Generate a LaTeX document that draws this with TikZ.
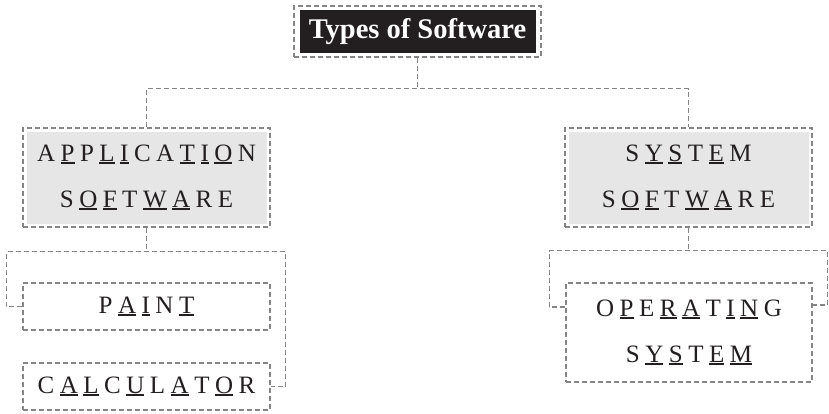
\documentclass[tikz,border=0pt]{standalone}
\usepackage{fontspec}
\setmainfont{Liberation Serif}
\usepackage{xcolor}
\usetikzlibrary{positioning, calc}

\definecolor{linegray}{HTML}{858585}
\definecolor{boxgray}{HTML}{E6E6E6}
\definecolor{inkdark}{HTML}{231F20}

% one underlined letter, and the gap between letters
\newcommand{\ulet}[1]{\setbox0=\hbox{#1}\rlap{\rule[-3pt]{\wd0}{1.8pt}}\box0}
\newcommand{\lsp}{\hspace{5.5pt}}

\begin{document}
\begin{tikzpicture}[
  x=1pt, y=-1pt,
  every node/.style={inner sep=0pt, text=inkdark},
  frame/.style={draw=linegray, line width=1.3pt, dash pattern=on 5pt off 3pt, rectangle, minimum width=247pt},
  shade/.style={fill=boxgray, rectangle, minimum width=240pt, minimum height=92pt, align=center,
    font=\fontsize{25}{46}\selectfont},
  plain/.style={frame, minimum height=47pt, align=center, font=\fontsize{25}{46}\selectfont},
  title/.style={fill=inkdark, text=white, minimum width=236pt, minimum height=43pt,
    font=\bfseries\fontsize{28.5}{30}\selectfont},
  link/.style={draw=linegray, line width=1.3pt, dash pattern=on 5pt off 3pt}
]
\useasboundingbox (0,0) rectangle (829,413);

% Nodes
\node[frame, minimum height=51pt] (root) at (417.5,31.5) {};
\node[title] (rootlabel) at (root) {Types of Software};

\node[frame, minimum height=99pt] (app) at (146.5,177.5) {};
\node[shade] (applabel) at (app) {%
  A\lsp\ulet{P}\lsp P\lsp\ulet{L}\lsp\ulet{I}\lsp C\lsp A\lsp\ulet{T}\lsp\ulet{I}\lsp\ulet{O}\lsp N\\
  S\lsp\ulet{O}\lsp\ulet{F}\lsp T\lsp\ulet{W}\lsp\ulet{A}\lsp R\lsp E};

\node[frame, minimum height=99pt] (sys) at (688.5,177.5) {};
\node[shade] (syslabel) at (sys) {%
  S\lsp\ulet{Y}\lsp\ulet{S}\lsp T\lsp\ulet{E}\lsp M\\
  S\lsp\ulet{O}\lsp\ulet{F}\lsp T\lsp\ulet{W}\lsp\ulet{A}\lsp R\lsp E};

\node[plain] (paint) at (146.5,306.5) {%
  P\lsp\ulet{A}\lsp\ulet{I}\lsp N\lsp\ulet{T}};
\node[plain] (calc) at (146.5,386.5) {%
  C\lsp\ulet{A}\lsp\ulet{L}\lsp C\lsp\ulet{U}\lsp L\lsp\ulet{A}\lsp T\lsp\ulet{O}\lsp R};

\node[plain, minimum width=246pt, minimum height=99pt] (os) at (689,332.5) {%
  O\lsp\ulet{P}\lsp E\lsp\ulet{R}\lsp\ulet{A}\lsp T\lsp\ulet{I}\lsp\ulet{N}\lsp G\\
  S\lsp\ulet{Y}\lsp\ulet{S}\lsp T\lsp\ulet{E}\lsp\ulet{M}};

% Connectors
\draw[link] (root.south) -- ++(0,31) coordinate (rootjoin);
\draw[link] (app.north) |- (rootjoin) -| (sys.north);

\draw[link] (app.south) -- ++(0,24) coordinate (appjoin);
\draw[link] (paint.west) -- ++(-16,0) |- (appjoin) -| ($(calc.east)+(15,0)$) -- (calc.east);

\draw[link] (sys.south) -- ++(0,23) coordinate (sysjoin);
\draw[link] ([yshift=25.5pt]os.west) -- ++(-16,0) |- (sysjoin) -| ($([yshift=27.5pt]os.east)+(15,0)$) -- ([yshift=27.5pt]os.east);
\end{tikzpicture}
\end{document}
